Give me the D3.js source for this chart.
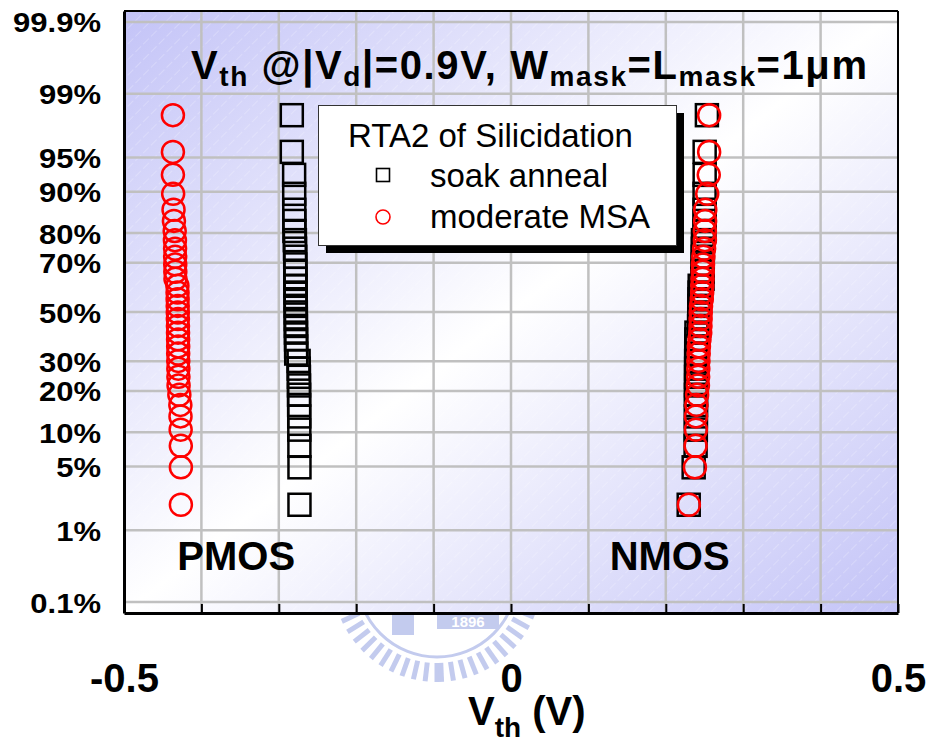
<!DOCTYPE html>
<html>
<head>
<meta charset="utf-8">
<script src="https://cdn.jsdelivr.net/npm/d3@7"></script>
<style>
  body { margin: 0; background: #fff; }
  svg { display: block; }
  text { font-family: "Liberation Sans", Arial, sans-serif; }
</style>
</head>
<body>
<svg id="chart" width="930" height="742"></svg>
<script>
// Cumulative probability (%) of each ranked device
const cumPct = [2.0, 4.9, 7.7, 10.5, 13.3, 16.1, 18.9, 21.7, 24.5, 27.3, 30.1, 32.9,
  35.7, 38.5, 41.3, 44.1, 47.0, 49.8, 52.6, 55.4, 58.2, 61.0, 63.8, 66.6, 69.4,
  72.2, 75.0, 77.8, 80.6, 83.4, 86.2, 89.6, 92.8, 95.6, 98.2];

// Threshold voltages (V), listed in the same rank order as cumPct
const pmosSoak = [-0.2733, -0.2733, -0.2734, -0.2735, -0.2736, -0.2737, -0.2738, -0.2739,
  -0.2740, -0.2742, -0.2744, -0.2775, -0.2776, -0.2777, -0.2778, -0.2779, -0.2780,
  -0.2780, -0.2781, -0.2782, -0.2783, -0.2784, -0.2785, -0.2786, -0.2787, -0.2788,
  -0.2790, -0.2792, -0.2798, -0.2799, -0.2800, -0.2801, -0.2802, -0.2832, -0.2832];
const pmosMsa = [-0.4265, -0.4265, -0.4266, -0.4268, -0.4270, -0.4272, -0.4285, -0.4295,
  -0.4297, -0.4298, -0.4299, -0.4300, -0.4300, -0.4301, -0.4302, -0.4303, -0.4304,
  -0.4305, -0.4306, -0.4307, -0.4308, -0.4310, -0.4335, -0.4337, -0.4338, -0.4339,
  -0.4340, -0.4342, -0.4345, -0.4355, -0.4360, -0.4365, -0.4368, -0.4368, -0.4368];
const nmosSoak = [0.2296, 0.2360, 0.2385, 0.2388, 0.2389, 0.2390, 0.2390, 0.2391, 0.2391,
  0.2392, 0.2392, 0.2393, 0.2394, 0.2395, 0.2396, 0.2430, 0.2432, 0.2434, 0.2435,
  0.2436, 0.2437, 0.2438, 0.2475, 0.2476, 0.2477, 0.2478, 0.2479, 0.2480, 0.2500,
  0.2501, 0.2501, 0.2501, 0.2502, 0.2502, 0.2531];
const nmosMsa = [0.2298, 0.2376, 0.2385, 0.2389, 0.2390, 0.2395, 0.2405, 0.2415, 0.2418,
  0.2420, 0.2422, 0.2425, 0.2428, 0.2435, 0.2445, 0.2448, 0.2450, 0.2452, 0.2455,
  0.2465, 0.2470, 0.2472, 0.2475, 0.2478, 0.2480, 0.2485, 0.2495, 0.2505, 0.2505,
  0.2508, 0.2510, 0.2535, 0.2555, 0.2560, 0.2560];

const xTickValues = [-0.5, -0.4, -0.3, -0.2, -0.1, 0, 0.1, 0.2, 0.3, 0.4, 0.5];
const xTickLabels = { "-0.5": "-0.5", "0": "0", "0.5": "0.5" };
const yTickPct = [0.1, 1, 5, 10, 20, 30, 50, 70, 80, 90, 95, 99, 99.9];
const yTickLabels = ["0.1%", "1%", "5%", "10%", "20%", "30%", "50%", "70%", "80%", "90%", "95%", "99%", "99.9%"];
const legendTitle = "RTA2 of Silicidation";
const seriesNames = ["soak anneal", "moderate MSA"];
const deviceLabels = [{ name: "PMOS", v: -0.355 }, { name: "NMOS", v: 0.205 }];

// Inverse of the standard normal CDF (Acklam's rational approximation)
function probit(p) {
  const a = [-3.969683028665376e+01, 2.209460984245205e+02, -2.759285104469687e+02,
    1.383577518672690e+02, -3.066479806614716e+01, 2.506628277459239e+00];
  const b = [-5.447609879822406e+01, 1.615858368580409e+02, -1.556989798598866e+02,
    6.680131188771972e+01, -1.328068155288572e+01];
  const c = [-7.784894002430293e-03, -3.223964580411365e-01, -2.400758277161838e+00,
    -2.549732539343734e+00, 4.374664141464968e+00, 2.938163982698783e+00];
  const d = [7.784695709041462e-03, 3.224671290700398e-01, 2.445134137142996e+00,
    3.754408661907416e+00];
  const pl = 0.02425, ph = 1 - pl;
  let q, r;
  if (p < pl) {
    q = Math.sqrt(-2 * Math.log(p));
    return (((((c[0]*q+c[1])*q+c[2])*q+c[3])*q+c[4])*q+c[5]) / ((((d[0]*q+d[1])*q+d[2])*q+d[3])*q+1);
  }
  if (p > ph) {
    q = Math.sqrt(-2 * Math.log(1 - p));
    return -(((((c[0]*q+c[1])*q+c[2])*q+c[3])*q+c[4])*q+c[5]) / ((((d[0]*q+d[1])*q+d[2])*q+d[3])*q+1);
  }
  q = p - 0.5; r = q * q;
  return (((((a[0]*r+a[1])*r+a[2])*r+a[3])*r+a[4])*r+a[5])*q / (((((b[0]*r+b[1])*r+b[2])*r+b[3])*r+b[4])*r+1);
}

const svg = d3.select("#chart");
const L = 124, R = 898, T = 11, B = 613;

const x = d3.scaleLinear().domain([-0.5, 0.5]).range([L, R]);
const z = d3.scaleLinear().domain([-3.207, 3.207]).range([B, T]);
const y = pct => z(probit(pct / 100));

const defs = svg.append("defs");
const grad = defs.append("linearGradient").attr("id", "bgGrad")
  .attr("x1", 0).attr("y1", 0).attr("x2", 1).attr("y2", 1);
grad.append("stop").attr("offset", "0%").attr("stop-color", "#c3c3f7");
grad.append("stop").attr("offset", "50%").attr("stop-color", "#ffffff");
grad.append("stop").attr("offset", "100%").attr("stop-color", "#c3c3f7");

const hatch = defs.append("pattern").attr("id", "hatch")
  .attr("patternUnits", "userSpaceOnUse").attr("width", 11).attr("height", 11)
  .attr("patternTransform", "rotate(45)");
hatch.append("line").attr("x1", 0).attr("y1", 0).attr("x2", 0).attr("y2", 11)
  .attr("stroke", "#ffffff").attr("stroke-width", 1).attr("stroke-opacity", 0.45)
  .attr("stroke-dasharray", "7 3");

// University emblem watermark (partly hidden behind the plot area)
const wm = svg.append("g").attr("transform", "translate(437,577)")
  .attr("fill", "#c3cbee").attr("stroke", "#c3cbee");
d3.range(0, 360, 6.5).forEach(a => {
  wm.append("rect").attr("x", -2.5).attr("y", 86).attr("width", 5).attr("height", 19)
    .attr("stroke", "none").attr("transform", `rotate(${a})`);
});
wm.append("circle").attr("r", 80).attr("fill", "none").attr("stroke-width", 3);
wm.append("rect").attr("x", 0).attr("y", 36).attr("width", 62).attr("height", 16)
  .attr("stroke", "none");
wm.append("text").attr("x", 31).attr("y", 50).attr("text-anchor", "middle")
  .attr("font-size", 15).attr("font-weight", "bold").attr("fill", "#ffffff")
  .attr("stroke", "none").text("1896");
wm.append("rect").attr("x", -45).attr("y", 36).attr("width", 22).attr("height", 22)
  .attr("stroke", "none");

// Plot background
svg.append("rect").attr("x", L).attr("y", T).attr("width", R - L).attr("height", B - T)
  .attr("fill", "url(#bgGrad)");
svg.append("rect").attr("x", L).attr("y", T).attr("width", R - L).attr("height", B - T)
  .attr("fill", "url(#hatch)");

// Grid
const grid = svg.append("g").attr("stroke", "#c0c0c0").attr("stroke-width", 2.5);
grid.selectAll(".hg").data(yTickPct).join("line")
  .attr("x1", L).attr("x2", R).attr("y1", d => y(d)).attr("y2", d => y(d));
grid.selectAll(".vg").data(xTickValues.slice(1, -1)).join("line")
  .attr("x1", d => x(d)).attr("x2", d => x(d)).attr("y1", T).attr("y2", B);

// Frame (top / right)
svg.append("line").attr("x1", L).attr("x2", R).attr("y1", T).attr("y2", T)
  .attr("stroke", "#000").attr("stroke-width", 2);
svg.append("line").attr("x1", R).attr("x2", R).attr("y1", T).attr("y2", B)
  .attr("stroke", "#000").attr("stroke-width", 2);

// X axis
const xAxis = d3.axisBottom(x).tickValues(xTickValues)
  .tickSizeInner(-9).tickSizeOuter(0)
  .tickFormat(d => xTickLabels[String(+d.toFixed(1))] || "");
const gx = svg.append("g").attr("transform", `translate(0,${B})`).call(xAxis);
gx.select(".domain").attr("stroke", "#000").attr("stroke-width", 3);
gx.selectAll(".tick line").attr("stroke", "#000").attr("stroke-width", 2);
gx.selectAll(".tick text").attr("y", 79).attr("dy", null)
  .attr("font-size", 40).attr("font-weight", "bold").attr("fill", "#000")
  .attr("font-family", "'Liberation Sans', Arial, sans-serif");

// Y axis (normal probability scale)
const yAxis = d3.axisLeft(z).tickValues(yTickPct.map(p => probit(p / 100)))
  .tickSize(0).tickPadding(23)
  .tickFormat((d, i) => yTickLabels[i]);
const gy = svg.append("g").attr("transform", `translate(${L},0)`).call(yAxis);
gy.select(".domain").attr("stroke", "#000").attr("stroke-width", 3);
gy.selectAll(".tick text").attr("dy", "0.37em")
  .attr("font-size", 27).attr("font-weight", "bold").attr("fill", "#000")
  .attr("font-family", "'Liberation Sans', Arial, sans-serif")
  .each(function () {
    // widen the compact labels to the axis' usual label width
    const w = this.getComputedTextLength();
    d3.select(this).attr("textLength", w * 31 / 27).attr("lengthAdjust", "spacingAndGlyphs");
  });

// Axis title
const xt = svg.append("text").attr("x", 468).attr("y", 725)
  .attr("font-size", 40).attr("font-weight", "bold");
xt.append("tspan").text("V");
xt.append("tspan").attr("font-size", 28).attr("dy", 12).text("th");
xt.append("tspan").attr("dy", -12).text(" (V)");

// Device labels
svg.selectAll(".dev").data(deviceLabels).join("text")
  .attr("x", d => x(d.v)).attr("y", 570).attr("text-anchor", "middle")
  .attr("font-size", 40).attr("font-weight", "bold").text(d => d.name);

// Title
const title = svg.append("text").attr("x", 191).attr("y", 79)
  .attr("font-size", 40).attr("font-weight", "bold")
  .attr("textLength", 676).attr("lengthAdjust", "spacing");
[["V", 0], ["th", 1], [" @|V", 0], ["d", 1], ["|=0.9V, W", 0], ["mask", 1],
 ["=L", 0], ["mask", 1], ["=1\u03bcm", 0]].forEach(([s, sub], i, arr) => {
  const prevSub = i > 0 && arr[i - 1][1];
  const t = title.append("tspan").text(s);
  if (sub) t.attr("font-size", 28).attr("dy", 7);
  else if (prevSub) t.attr("dy", -7);
});

// Data points
const series = [
  { v: pmosSoak, kind: "sq" }, { v: nmosSoak, kind: "sq" },
  { v: pmosMsa, kind: "ci" }, { v: nmosMsa, kind: "ci" }
];
series.forEach(s => {
  const pts = s.v.map((v, i) => ({ v, p: cumPct[i] }));
  const g = svg.append("g").attr("fill", "none");
  if (s.kind === "sq") {
    g.selectAll("rect").data(pts).join("rect")
      .attr("x", d => x(d.v) - 11).attr("y", d => y(d.p) - 11)
      .attr("width", 22).attr("height", 22)
      .attr("stroke", "#000").attr("stroke-width", 2.5);
  } else {
    g.selectAll("circle").data(pts).join("circle")
      .attr("cx", d => x(d.v)).attr("cy", d => y(d.p)).attr("r", 11)
      .attr("stroke", "#ff0000").attr("stroke-width", 2.5);
  }
});

// Legend
const lg = svg.append("g");
lg.append("rect").attr("x", 326).attr("y", 113).attr("width", 358).attr("height", 140)
  .attr("fill", "#000");
lg.append("rect").attr("x", 318.5).attr("y", 105.5).attr("width", 358).attr("height", 140)
  .attr("fill", "#fff").attr("stroke", "#333").attr("stroke-width", 1);
lg.append("text").attr("x", 348).attr("y", 147).attr("font-size", 33).text(legendTitle);
lg.append("rect").attr("x", 376.5).attr("y", 168.5).attr("width", 13).attr("height", 13)
  .attr("fill", "none").attr("stroke", "#000").attr("stroke-width", 1.6);
lg.append("circle").attr("cx", 383).attr("cy", 217).attr("r", 7)
  .attr("fill", "none").attr("stroke", "#ff0000").attr("stroke-width", 1.6);
lg.selectAll(".ln").data(seriesNames).join("text")
  .attr("x", 430).attr("y", (d, i) => 187 + i * 41).attr("font-size", 33).text(d => d);
</script>
</body>
</html>
